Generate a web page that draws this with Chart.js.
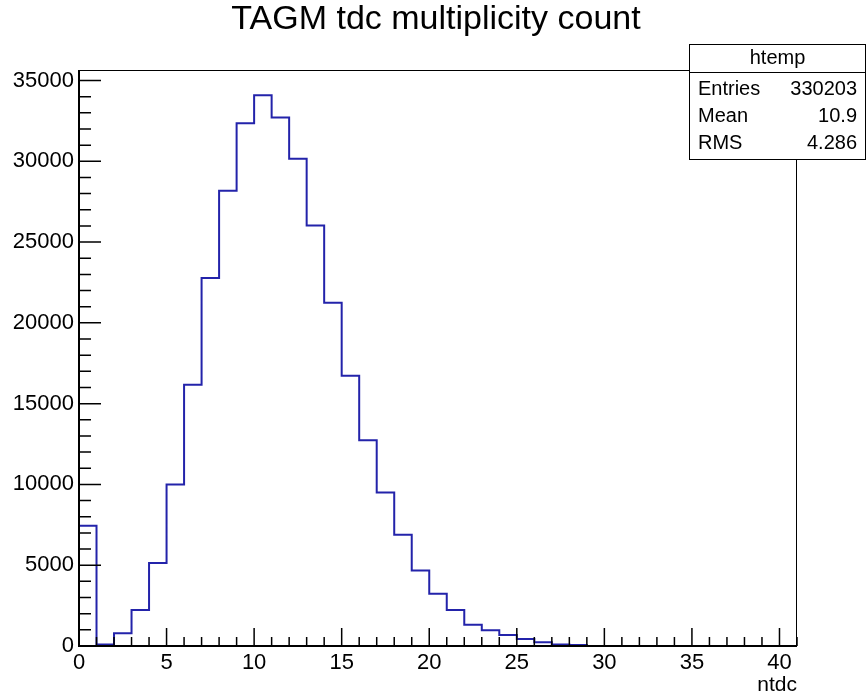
<!DOCTYPE html>
<html>
<head>
<meta charset="utf-8">
<title>TAGM tdc multiplicity count</title>
<script src="https://cdn.jsdelivr.net/npm/chart.js@4.4.1/dist/chart.umd.min.js"></script>
<style>
  html, body { margin: 0; padding: 0; background: #fff; }
  #wrap { width: 866px; height: 698px; position: relative; }
</style>
</head>
<body>
<div id="wrap"><canvas id="hist"></canvas></div>
<script>
// bin low edges (ntdc) and counts
const binLow = [0, 1, 2, 3, 4, 5, 6, 7, 8, 9, 10, 11, 12, 13, 14, 15, 16, 17, 18, 19, 20,
                21, 22, 23, 24, 25, 26, 27, 28, 29, 30, 31, 32, 33, 34, 35, 36, 37, 38, 39, 40];
const counts = [7450, 100, 790, 2230, 5140, 10000, 16170, 22780, 28170, 32360, 34080,
                32710, 30150, 26020, 21250, 16730, 12740, 9500, 6880, 4670, 3240,
                2230, 1320, 970, 680, 430, 230, 100, 60, 0, 0,
                0, 0, 0, 0, 0, 0, 0, 0, 0, 0];
const binWidth = 1;
const xTicks = [0, 5, 10, 15, 20, 25, 30, 35, 40];
const yTicks = [0, 5000, 10000, 15000, 20000, 25000, 30000, 35000];
const statLabels = ["Entries", "Mean", "RMS"];
const statValues = ["330203", "10.9", "4.286"];
const histName = "htemp";
const chartTitle = "TAGM tdc multiplicity count";

const FONT = "'Liberation Sans', Arial, Helvetica, sans-serif";

// outline points: start at baseline, one point per bin low edge, close at the last high edge
const lastEdge = binLow[binLow.length - 1] + binWidth;
const points = [{ x: binLow[0], y: 0 }]
  .concat(binLow.map((b, i) => ({ x: b, y: counts[i] })))
  .concat([{ x: lastEdge, y: 0 }]);

// ROOT style frame with ticks pointing inwards, title and stats box
const rootFrame = {
  id: 'rootFrame',
  afterDatasetsDraw(chart) {
    const { ctx, chartArea: a, scales } = chart;
    const xs = scales.x, ys = scales.y;
    ctx.save();
    ctx.strokeStyle = '#000';
    ctx.lineWidth = 1;
    ctx.strokeRect(a.left + 0.5, a.top + 0.5, a.right - a.left - 1, a.bottom - a.top);

    ctx.lineWidth = 2;
    ctx.beginPath();
    ctx.moveTo(a.left, a.top);
    ctx.lineTo(a.left, a.bottom);
    ctx.lineTo(a.right, a.bottom);
    ctx.stroke();

    ctx.lineWidth = 1.5;
    ctx.beginPath();
    for (let v = 0; v <= xs.max; v += 1) {
      const px = xs.getPixelForValue(v);
      const len = v % 5 === 0 ? 18 : 9;
      ctx.moveTo(px, a.bottom);
      ctx.lineTo(px, a.bottom - len);
    }
    for (let v = 0; v <= ys.max; v += 1000) {
      const py = ys.getPixelForValue(v);
      const len = v % 5000 === 0 ? 22 : 12;
      ctx.moveTo(a.left, py);
      ctx.lineTo(a.left + len, py);
    }
    ctx.stroke();
    ctx.restore();
  },
  afterDraw(chart) {
    const ctx = chart.ctx;
    ctx.save();
    ctx.fillStyle = '#000';
    ctx.textBaseline = 'middle';
    ctx.textAlign = 'center';
    ctx.font = '34px ' + FONT;
    ctx.fillText(chartTitle, 436, 20);

    // stats box
    const bx = 689.5, by = 44.5, bw = 176, bh = 115, headH = 28;
    ctx.fillStyle = '#fff';
    ctx.fillRect(bx, by, bw, bh);
    ctx.strokeStyle = '#000';
    ctx.lineWidth = 1;
    ctx.strokeRect(bx, by, bw, bh);
    ctx.beginPath();
    ctx.moveTo(bx, by + headH);
    ctx.lineTo(bx + bw, by + headH);
    ctx.stroke();

    ctx.fillStyle = '#000';
    ctx.font = '20px ' + FONT;
    ctx.fillText(histName, bx + bw / 2, by + 14);

    const rowY = [89, 116, 143];
    statLabels.forEach((lab, i) => {
      ctx.textAlign = 'left';
      ctx.fillText(lab, 698, rowY[i]);
      ctx.textAlign = 'right';
      ctx.fillText(statValues[i], 857, rowY[i]);
    });
    ctx.restore();
  }
};

new Chart(document.getElementById('hist'), {
  type: 'line',
  data: {
    datasets: [{
      label: histName,
      data: points,
      stepped: true,
      borderColor: 'rgb(35, 35, 170)',
      borderWidth: 2,
      pointRadius: 0,
      fill: false
    }]
  },
  options: {
    responsive: true,
    maintainAspectRatio: false,
    animation: false,
    layout: { padding: { left: 0, right: 69, top: 70, bottom: 0 } },
    plugins: {
      legend: { display: false },
      tooltip: { enabled: false },
      title: { display: false }
    },
    scales: {
      x: {
        type: 'linear',
        min: 0,
        max: lastEdge,
        grid: { display: false, drawTicks: false },
        border: { display: false },
        afterBuildTicks: s => { s.ticks = xTicks.map(v => ({ value: v })); },
        afterFit: s => { s.height = 52; },
        ticks: {
          color: '#000',
          font: { family: FONT, size: 22 },
          padding: 4,
          maxRotation: 0,
          autoSkip: false,
          callback: v => String(v)
        },
        title: {
          display: true,
          text: 'ntdc',
          align: 'end',
          color: '#000',
          font: { family: FONT, size: 21 },
          padding: 0
        }
      },
      y: {
        min: 0,
        max: 35650,
        grid: { display: false, drawTicks: false },
        border: { display: false },
        afterBuildTicks: s => { s.ticks = yTicks.map(v => ({ value: v })); },
        afterFit: s => { s.width = 79; },
        ticks: {
          color: '#000',
          font: { family: FONT, size: 22 },
          padding: 5,
          autoSkip: false,
          callback: v => String(v)
        }
      }
    }
  },
  plugins: [rootFrame]
});
</script>
</body>
</html>
